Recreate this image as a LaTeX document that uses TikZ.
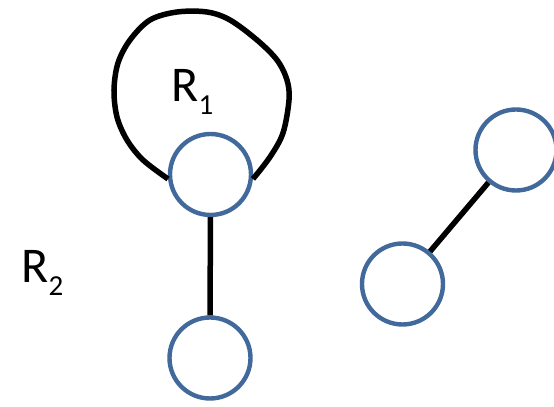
\documentclass[tikz,border=0pt]{standalone}
\usepackage{fontspec}
\setmainfont{Carlito}
\usetikzlibrary{positioning}
\definecolor{nodeblue}{RGB}{65,105,155}
\newcommand\lowsub[1]{\raisebox{-6.5pt}{\fontsize{14.5}{15}\selectfont #1}}

\begin{document}
\begin{tikzpicture}[
    x=0.5pt, y=0.5pt,
    font=\fontsize{25}{30}\selectfont,
    vertex/.style={draw=nodeblue, line width=2.2pt, circle, minimum size=40.5pt, inner sep=0pt, fill=white},
    edge/.style={line width=2.75pt, black},
    lbl/.style={anchor=base west, inner sep=0pt}
]
\useasboundingbox (0,0) rectangle (554,407);

\node[vertex] (top) at (210.5,232.5) {};
\node[vertex] (bottom) at (210,49) {};
\node[vertex] (left) at (402.5,123) {};
\node[vertex] (right) at (516,257) {};

\node[lbl] (r1) at (171,305) {R\lowsub{1}};
\node[lbl] (r2) at (21,124) {R\lowsub{2}};

% self loop round R1
\draw[edge] plot[smooth, tension=0.55] coordinates {(top.186) (143,247) (127,267) (117,290) (114,317) (118,344) (130,367) (150,387) (177,395) (207,395) (230,387) (257,367) (277,347) (287,327) (289,307) (283,274) (270,250) (top.-6)};

\draw[edge] (top) -- (bottom);
\draw[edge] (left) -- (right);
\end{tikzpicture}
\end{document}
